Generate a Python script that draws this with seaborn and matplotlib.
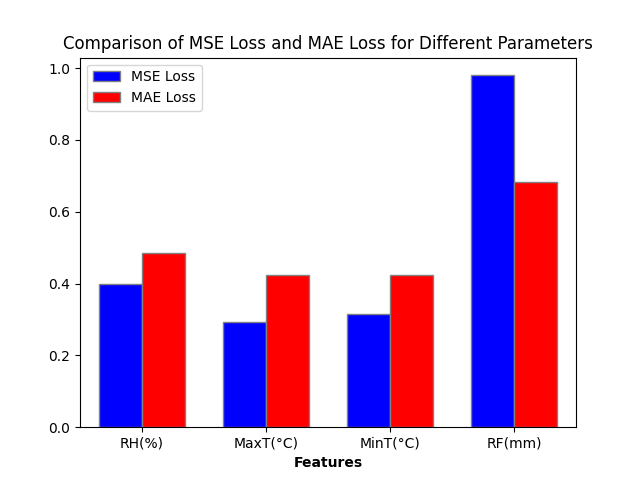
import pandas as pd
import matplotlib
matplotlib.use("Agg")
import matplotlib.pyplot as plt
import seaborn as sns

features = ["RH(%)", "MaxT(°C)", "MinT(°C)", "RF(mm)"]
mse_loss = [0.400, 0.293, 0.315, 0.980]
mae_loss = [0.485, 0.425, 0.425, 0.683]

df = pd.DataFrame({
    "Features": features * 2,
    "Loss": mse_loss + mae_loss,
    "Type": ["MSE Loss"] * 4 + ["MAE Loss"] * 4,
})

fig, ax = plt.subplots(figsize=(6.4, 4.8), dpi=100)
sns.barplot(data=df, x="Features", y="Loss", hue="Type",
            palette={"MSE Loss": "blue", "MAE Loss": "red"},
            width=0.7, edgecolor="grey", saturation=1, ax=ax)
ax.set_xlabel("Features", fontweight="bold")
ax.set_ylabel("")
ax.set_title("Comparison of MSE Loss and MAE Loss for Different Parameters")
ax.legend(loc="upper left")
fig.savefig("out.png")
